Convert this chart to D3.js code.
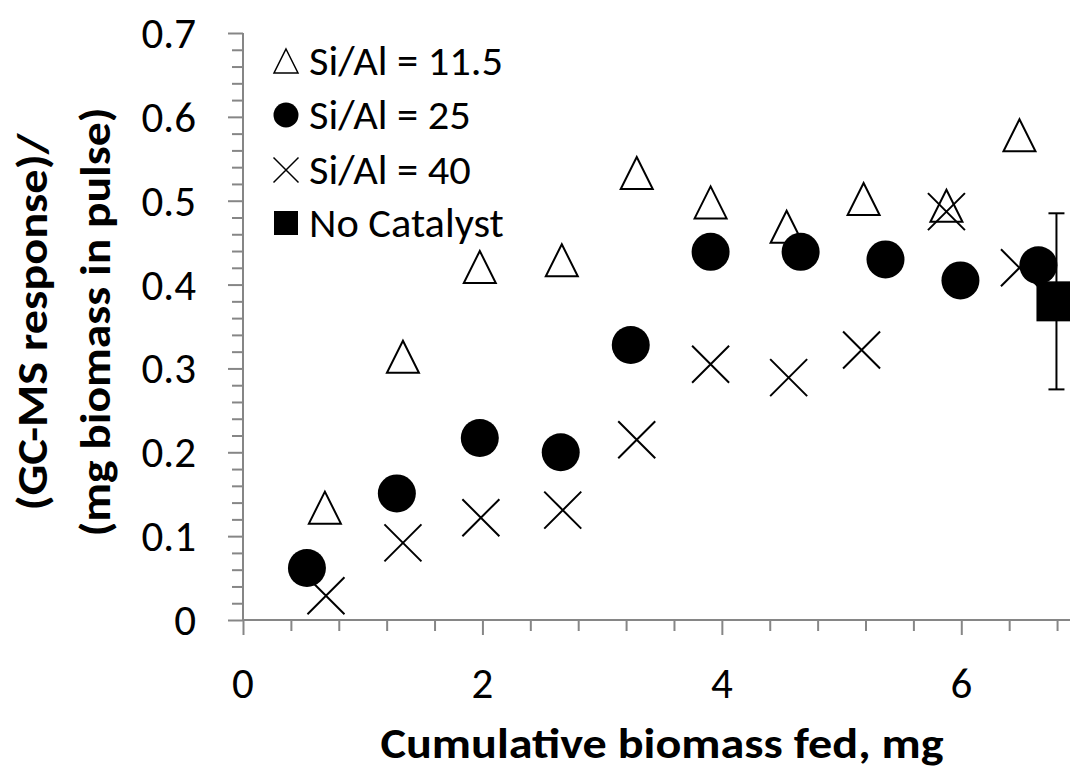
<!DOCTYPE html>
<html>
<head>
<meta charset="utf-8">
<script src="https://cdn.jsdelivr.net/npm/d3@7/dist/d3.min.js"></script>
<style>
  html, body { margin: 0; padding: 0; background: #fff; }
  svg { display: block; }
  text { font-family: Carlito, Calibri, Lato, sans-serif; fill: #000; }
</style>
</head>
<body>
<svg id="chart" width="1070" height="772"></svg>
<script>
// ---- data ----
const xSi115 = [0.684, 1.336, 1.978, 2.663, 3.289, 3.906, 4.541, 5.184, 5.876, 6.486];
const ySi115 = [0.134, 0.314, 0.421, 0.429, 0.533, 0.498, 0.469, 0.502, 0.494, 0.578];

const xSi25 = [0.534, 1.285, 1.978, 2.654, 3.239, 3.906, 4.658, 5.367, 5.993, 6.644];
const ySi25 = [0.062, 0.151, 0.217, 0.200, 0.328, 0.439, 0.439, 0.430, 0.405, 0.423];

const xSi40 = [0.693, 1.336, 1.987, 2.671, 3.289, 3.906, 4.558, 5.167, 5.876, 6.486];
const ySi40 = [0.029, 0.092, 0.122, 0.131, 0.215, 0.305, 0.289, 0.322, 0.487, 0.420];

const xNoCat = [6.795];
const yNoCat = [0.380];
const errNoCat = [0.105];

const xTicks = [0, 2, 4, 6];
const yTicks = [0, 0.1, 0.2, 0.3, 0.4, 0.5, 0.6, 0.7];
const legendLabels = ["Si/Al = 11.5", "Si/Al = 25", "Si/Al = 40", "No Catalyst"];
const xTitle = "Cumulative biomass fed, mg";
const yTitleLines = ["(GC-MS response)/", "(mg biomass in pulse)"];

// ---- layout ----
const svg = d3.select("#chart");
const x = d3.scaleLinear().domain([0, 7]).range([243, 1081]);
const y = d3.scaleLinear().domain([0, 0.7]).range([620, 33]);
const axisColor = "#868686";

const xMinor = d3.range(0, 7.0001, 0.4).filter(v => Math.abs(v / 2 - Math.round(v / 2)) > 1e-6);
const yMinor = d3.range(0, 0.7001, 0.02).filter(v => Math.abs(v * 10 - Math.round(v * 10)) > 1e-6);

// y axis
const gy = svg.append("g");
gy.append("g").call(d3.axisLeft(y).tickValues(yMinor).tickSize(11).tickFormat(""));
gy.append("g").call(d3.axisLeft(y).tickValues(yTicks).tickSize(15).tickFormat(""));
gy.attr("transform", `translate(${x(0)},0)`);
// x axis
const gx = svg.append("g").attr("transform", `translate(0,${y(0)})`);
gx.append("g").call(d3.axisBottom(x).tickValues(xMinor).tickSize(11).tickFormat(""));
gx.append("g").call(d3.axisBottom(x).tickValues(d3.range(0, 7.0001, 2)).tickSize(15).tickFormat(""));

svg.selectAll(".domain").attr("stroke", axisColor).attr("stroke-width", 2);
svg.selectAll(".tick line").attr("stroke", axisColor).attr("stroke-width", 2);
svg.selectAll(".domain").filter(function(){ return this.parentNode.parentNode === gx.node(); })
   .attr("d", `M${x(0)},0H${x(7)}`);
svg.selectAll(".domain").filter(function(){ return this.parentNode.parentNode === gy.node(); })
   .attr("d", `M0,${y(0)}V${y(0.7)}`);

// tick labels
svg.append("g").selectAll("text").data(yTicks).join("text")
  .attr("x", 196).attr("y", d => y(d) + 15)
  .attr("text-anchor", "end").attr("font-size", 43)
  .text(d => d === 0 ? "0" : d3.format(".1f")(d));
svg.append("g").selectAll("text").data(xTicks).join("text")
  .attr("x", d => x(d)).attr("y", 698)
  .attr("text-anchor", "middle").attr("font-size", 43)
  .text(d => d);

// titles
svg.append("text").attr("x", x(3.5)).attr("y", 758)
  .attr("text-anchor", "middle").attr("font-size", 43).attr("font-weight", "bold")
  .attr("textLength", 563).attr("lengthAdjust", "spacingAndGlyphs")
  .text(xTitle);
const yTitleLen = [377, 429];
const yTitleX = [47, 110];
svg.append("g").selectAll("text").data(yTitleLines).join("text")
  .attr("transform", (d, i) => `translate(${yTitleX[i]},322) rotate(-90)`)
  .attr("text-anchor", "middle").attr("font-size", 43).attr("font-weight", "bold")
  .attr("textLength", (d, i) => yTitleLen[i]).attr("lengthAdjust", "spacingAndGlyphs")
  .text(d => d);

// ---- marks ----
const triPath = (s) => {
  const h = s; const w = s;
  return `M0,${-h / 2}L${w / 2},${h / 2}L${-w / 2},${h / 2}Z`;
};
const crossPath = (s) => `M${-s / 2},${-s / 2}L${s / 2},${s / 2}M${-s / 2},${s / 2}L${s / 2},${-s / 2}`;

const plot = svg.append("g");

// triangles Si/Al = 11.5
plot.append("g").selectAll("path").data(xSi115.map((v, i) => [v, ySi115[i]])).join("path")
  .attr("transform", d => `translate(${x(d[0])},${y(d[1])})`)
  .attr("d", triPath(32)).attr("fill", "none").attr("stroke", "#000").attr("stroke-width", 2);

// crosses Si/Al = 40
plot.append("g").selectAll("path").data(xSi40.map((v, i) => [v, ySi40[i]])).join("path")
  .attr("transform", d => `translate(${x(d[0])},${y(d[1])})`)
  .attr("d", crossPath(37)).attr("fill", "none").attr("stroke", "#000").attr("stroke-width", 2);

// No catalyst with error bar
const nc = xNoCat.map((v, i) => ({ x: v, y: yNoCat[i], e: errNoCat[i] }));
const eb = plot.append("g").selectAll("g").data(nc).join("g").attr("stroke", "#000").attr("stroke-width", 2);
eb.append("line").attr("x1", d => x(d.x)).attr("x2", d => x(d.x)).attr("y1", d => y(d.y + d.e)).attr("y2", d => y(d.y - d.e));
eb.append("line").attr("x1", d => x(d.x) - 8).attr("x2", d => x(d.x) + 8).attr("y1", d => y(d.y + d.e)).attr("y2", d => y(d.y + d.e));
eb.append("line").attr("x1", d => x(d.x) - 8).attr("x2", d => x(d.x) + 8).attr("y1", d => y(d.y - d.e)).attr("y2", d => y(d.y - d.e));
plot.append("g").selectAll("rect").data(nc).join("rect")
  .attr("x", d => x(d.x) - 20).attr("y", d => y(d.y) - 20).attr("width", 40).attr("height", 40).attr("fill", "#000");

// circles Si/Al = 25
plot.append("g").selectAll("circle").data(xSi25.map((v, i) => [v, ySi25[i]])).join("circle")
  .attr("cx", d => x(d[0])).attr("cy", d => y(d[1])).attr("r", 19).attr("fill", "#000");

// ---- legend ----
const legY = [61, 115, 170, 223];
const lg = svg.append("g");
lg.append("path").attr("transform", `translate(286,${legY[0]})`).attr("d", triPath(24))
  .attr("fill", "none").attr("stroke", "#000").attr("stroke-width", 1.5);
lg.append("circle").attr("cx", 286).attr("cy", legY[1]).attr("r", 12.5).attr("fill", "#000");
lg.append("path").attr("transform", `translate(286,${legY[2]})`).attr("d", crossPath(25))
  .attr("fill", "none").attr("stroke", "#000").attr("stroke-width", 1.5);
lg.append("rect").attr("x", 274).attr("y", legY[3] - 12).attr("width", 24).attr("height", 24).attr("fill", "#000");
const legText = lg.selectAll("text").data(legendLabels).join("text")
  .attr("x", 309).attr("y", (d, i) => legY[i] + 14)
  .attr("font-size", 40)
  .text(d => d);
// stretch legend texts so that the first label spans the reference width
const natural = legText.nodes().map(n => n.getComputedTextLength());
const factor = 194 / natural[0];
legText.attr("textLength", (d, i) => natural[i] * factor).attr("lengthAdjust", "spacingAndGlyphs");
</script>
</body>
</html>
